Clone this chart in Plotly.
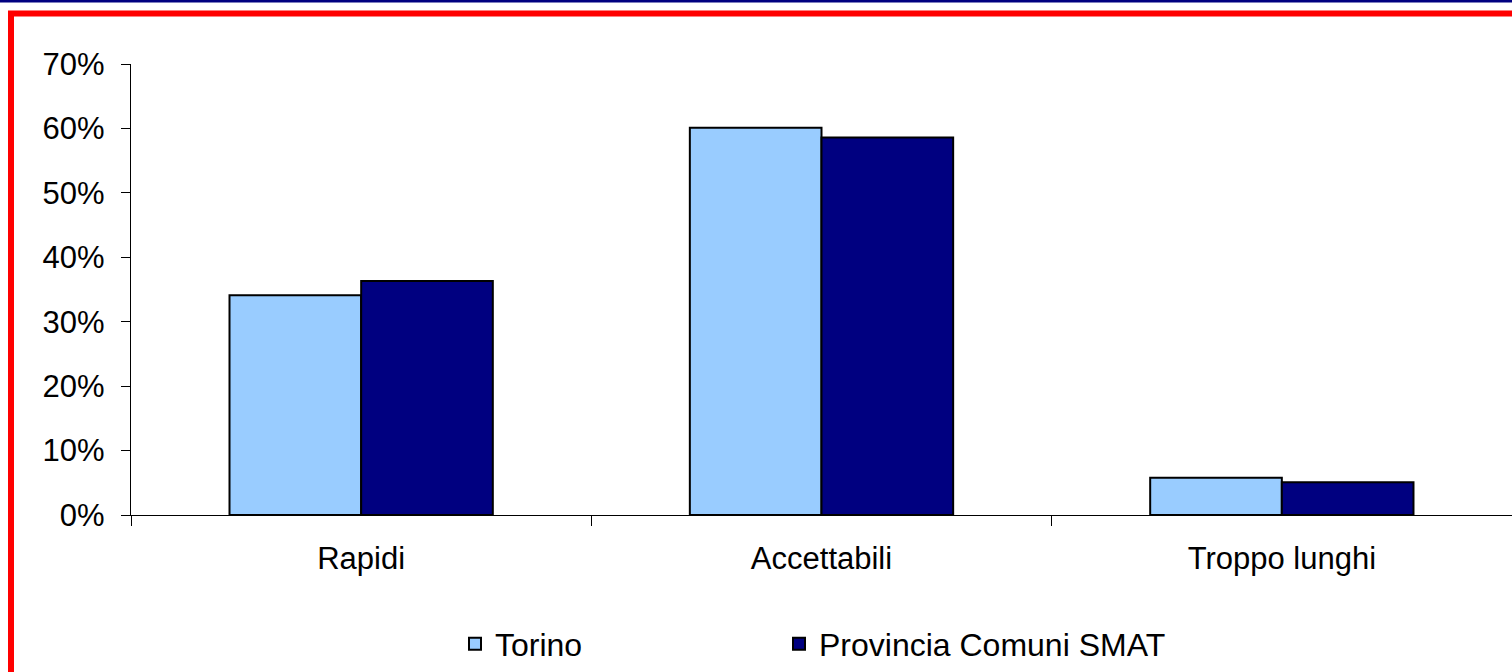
import plotly.graph_objects as go

# Tempi di attesa: quote per categoria
categories = ["Rapidi", "Accettabili", "Troppo lunghi"]
torino = [0.341, 0.601, 0.058]
provincia = [0.363, 0.586, 0.051]
series_names = ["Torino", "Provincia Comuni SMAT"]
y_ticks = [0, 0.1, 0.2, 0.3, 0.4, 0.5, 0.6, 0.7]
y_tick_labels = ["0%", "10%", "20%", "30%", "40%", "50%", "60%", "70%"]

W, H = 1512, 672
L, R, T, B = 131, 0, 64, 157
FONT = "Liberation Sans, Arial, sans-serif"
AXIS_FONT_SIZE = 31
LEGEND_FONT_SIZE = 32


def px_x(px):
    return (px - L) / (W - L - R)


def px_y(py):
    return (H - B - py) / (H - T - B)


fig = go.Figure()
fig.add_trace(go.Bar(
    x=categories, y=torino, name=series_names[0], legend="legend",
    marker=dict(color="#99ccff", line=dict(color="black", width=2)),
))
fig.add_trace(go.Bar(
    x=categories, y=provincia, name=series_names[1], legend="legend2",
    marker=dict(color="#000080", line=dict(color="black", width=2)),
))

# cornice della diapositiva
fig.add_shape(type="rect", xref="paper", yref="paper",
              x0=px_x(0), x1=px_x(W + 5), y0=px_y(0), y1=px_y(2.5),
              fillcolor="#000080", line=dict(width=0), layer="above")
fig.add_shape(type="rect", xref="paper", yref="paper",
              x0=px_x(11), x1=px_x(W + 20), y0=px_y(H + 20), y1=px_y(13.5),
              fillcolor="rgba(0,0,0,0)", line=dict(color="#ff0000", width=6),
              layer="above")

legend_style = dict(
    orientation="h", xanchor="left", y=px_y(644), yanchor="middle",
    font=dict(family=FONT, size=LEGEND_FONT_SIZE, color="black"),
    bgcolor="rgba(0,0,0,0)",
)

fig.update_layout(
    width=W, height=H,
    margin=dict(l=L, r=R, t=T, b=B, pad=0),
    paper_bgcolor="white", plot_bgcolor="white",
    barmode="group", bargap=0.428, bargroupgap=0,
    font=dict(family=FONT, size=AXIS_FONT_SIZE, color="black"),
    showlegend=True,
    legend=dict(x=px_x(455), **legend_style),
    legend2=dict(x=px_x(779), **legend_style),
)
fig.update_xaxes(
    showline=True, linecolor="black", linewidth=1.3,
    ticks="outside", ticklen=10, tickcolor="black", tickwidth=1.3,
    tickson="boundaries", showgrid=False, zeroline=False,
    tickfont=dict(family=FONT, size=AXIS_FONT_SIZE, color="black"),
    ticklabelstandoff=16,
)
fig.update_yaxes(
    range=[0, 0.7], tickvals=y_ticks, ticktext=y_tick_labels,
    showline=True, linecolor="black", linewidth=1.3,
    ticks="outside", ticklen=9, tickcolor="black", tickwidth=1.3,
    showgrid=False, zeroline=False,
    tickfont=dict(family=FONT, size=AXIS_FONT_SIZE, color="black"),
    ticklabelstandoff=10,
)

fig.write_html("out.html")
